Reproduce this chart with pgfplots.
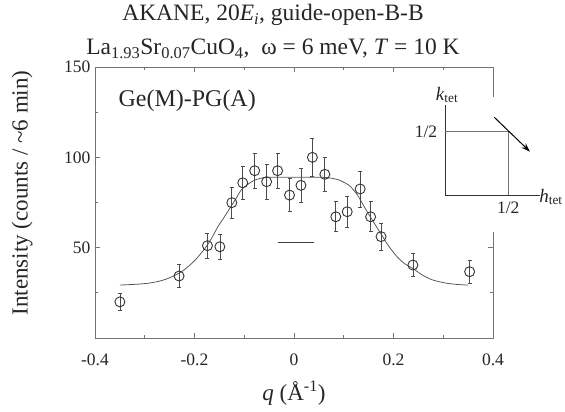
\documentclass[border=0pt]{standalone}
\usepackage{pgfplots}
\pgfplotsset{compat=1.18}
\usepackage{fontspec}
\setmainfont{Liberation Serif}
\usetikzlibrary{arrows.meta}
\pgfplotstableread{
q I err
-0.350 20.0 4.6
-0.231 34.3 6.2
-0.174 51.1 7.1
-0.149 50.5 7.1
-0.125 74.9 8.6
-0.103 85.9 9.2
-0.079 92.6 9.8
-0.055 86.5 9.5
-0.033 92.6 9.8
-0.009 79.1 9.0
0.014 84.5 9.2
0.037 100.0 10.3
0.062 90.6 9.6
0.084 67.1 8.3
0.107 69.9 8.5
0.133 82.5 10.0
0.154 67.1 8.3
0.175 56.1 7.6
0.239 40.4 6.4
0.353 36.7 6.3
}\datatable
\begin{document}
\begin{tikzpicture}
\path[use as bounding box] (-95pt,-74pt) rectangle (470pt,338pt);
\begin{axis}[
  at={(0pt,0pt)}, anchor=south west,
  width=398pt, height=271pt, scale only axis,
  xmin=-0.4, xmax=0.4, ymin=0, ymax=150,
  xtick={-0.4,-0.2,0,0.2,0.4},
  xticklabels={-0.4,-0.2,0,0.2,0.4},
  minor xtick={-0.3,-0.1,0.1,0.3},
  ytick={50,100,150},
  minor ytick={25,75,125},
  tick align=inside,
  major tick length=5pt, minor tick length=3pt,
  axis line style={black!55, line width=0.8pt},
  tick style={black!55, line width=0.8pt},
  /pgf/number format/assume math mode=true,
  tick label style={font=\fontsize{17.5}{20}\selectfont, black!85},
  xticklabel style={yshift=-12pt},
  yticklabel style={xshift=-1pt},
  label style={font=\fontsize{23}{27}\selectfont, black!85},
  xlabel={\textit{q} (Å\textsuperscript{-1})},
  ylabel={Intensity (counts / \textasciitilde6 min)},
  xlabel style={at={(axis description cs:0.5,-0.203)}, anchor=center},
  ylabel style={at={(axis description cs:-0.183,0.535)}, anchor=center},
  clip=false,
]
\addplot[black!65, line width=0.8pt, smooth, tension=0.4] coordinates {
(-0.35,29.3) (-0.32,29.7) (-0.293,30.3) (-0.27,31.5) (-0.253,33) (-0.23,36)
(-0.215,39) (-0.199,43) (-0.185,47.5) (-0.174,51.5) (-0.163,56.5) (-0.153,61.6)
(-0.14,67) (-0.129,71.8) (-0.117,77) (-0.106,82) (-0.093,85) (-0.079,87.4)
(-0.065,88.5) (-0.053,89) (0,89) (0.05,89) (0.07,88.7) (0.09,87.5) (0.105,85.5)
(0.114,83.7) (0.128,79) (0.141,72.7) (0.158,65) (0.174,58) (0.19,51) (0.207,45)
(0.223,41) (0.239,38.5) (0.26,34.5) (0.28,32) (0.307,30.3) (0.33,29.6) (0.35,29.3)
};
\addplot[black!75, line width=1.1pt] coordinates {(-0.033,52.7) (0.041,52.7)};
\addplot[black!80, line width=0.8pt, only marks, mark=o,
  mark size=5pt, mark options={fill=white, line width=0.9pt},
  error bars/.cd, y dir=both, y explicit,
  error bar style={black!70, line width=0.7pt},
  error mark options={rotate=90, mark size=2pt, black!70, line width=0.7pt}]
  table[x=q, y=I, y error=err] {\datatable};
\end{axis}
% titles
\node[anchor=base, font=\fontsize{23.5}{27}\selectfont, black!85] at (178pt,317pt)
  {AKANE, 20\textit{E}\textsubscript{\textit{i}}, guide-open-B-B};
\node[anchor=base, font=\fontsize{23.5}{27}\selectfont, black!85] at (178pt,283pt)
  {La\textsubscript{1.93}Sr\textsubscript{0.07}CuO\textsubscript{4}, \ ω = 6 meV, \textit{T} = 10 K};
\node[anchor=base west, font=\fontsize{24}{28}\selectfont, black!85] at (20pt,231pt) {Ge(M)-PG(A)};
% inset
\fill[white] (330pt,106pt) rectangle (470pt,241pt);
\draw[black!80, line width=0.8pt] (350pt,233pt) -- (350pt,143pt) -- (445pt,143pt);
\draw[black!55, line width=0.8pt] (350pt,206.3pt) -- (413.3pt,206.3pt) -- (413.3pt,143pt);
\draw[black, line width=1pt, -{Stealth[length=9pt,width=6pt]}] (399.3pt,220.7pt) -- (435pt,186.3pt);
\node[font=\fontsize{19}{22}\selectfont, black!85] at (352pt,243pt) {\textit{k}\textsubscript{tet}};
\node[font=\fontsize{17.5}{20}\selectfont, black!85] at (331pt,206.3pt) {1/2};
\node[font=\fontsize{17.5}{20}\selectfont, black!85] at (413.3pt,130pt) {1/2};
\node[font=\fontsize{19}{22}\selectfont, black!85] at (456pt,141pt) {\textit{h}\textsubscript{tet}};
\end{tikzpicture}
\end{document}
